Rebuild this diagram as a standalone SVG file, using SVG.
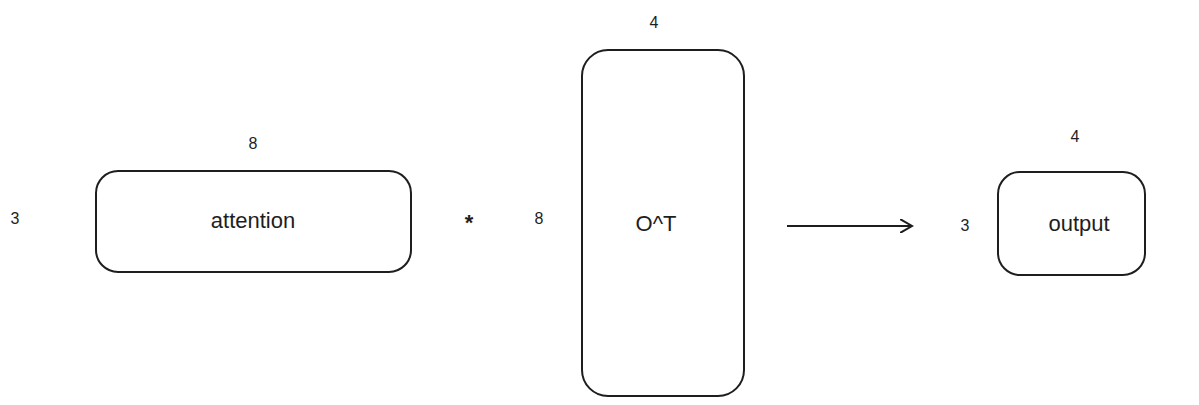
<svg xmlns="http://www.w3.org/2000/svg" width="1199" height="405" viewBox="0 0 1199 405">
<defs>
<style>
.box{fill:none;stroke:#1e1e1e;stroke-width:2}
.t{font-family:"Liberation Sans",Arial,sans-serif;fill:#1e1e1e;text-anchor:middle;dominant-baseline:central}
.s{font-size:16px}
.l{font-size:22px}
</style>
<marker id="ah" markerWidth="14" markerHeight="14" refX="12" refY="7" orient="auto" markerUnits="userSpaceOnUse">
<path d="M0,0 L12,7 L0,14" fill="none" stroke="#1e1e1e" stroke-width="2"/>
</marker>
</defs>
<rect width="1199" height="405" fill="#ffffff"/>
<g id="attention">
<rect class="box" x="96" y="171" width="315" height="101" rx="22"/>
<text class="t l" x="253" y="220">attention</text>
</g>
<g id="ot">
<rect class="box" x="582" y="50" width="162" height="346" rx="26"/>
<text class="t l" x="656" y="223">O^T</text>
</g>
<g id="output">
<rect class="box" x="998" y="172" width="147" height="103" rx="22"/>
<text class="t l" x="1079" y="223">output</text>
</g>
<g id="labels">
<text class="t s" x="253" y="143">8</text>
<text class="t s" x="15" y="218">3</text>
<text class="t" x="469" y="222" font-size="22" font-weight="bold">*</text>
<text class="t s" x="539" y="218">8</text>
<text class="t s" x="654" y="22">4</text>
<text class="t s" x="1075" y="136">4</text>
<text class="t s" x="965" y="225">3</text>
</g>
<g id="connectors">
<line x1="787" y1="226" x2="912" y2="226" stroke="#1e1e1e" stroke-width="2" marker-end="url(#ah)"/>
</g>
</svg>
